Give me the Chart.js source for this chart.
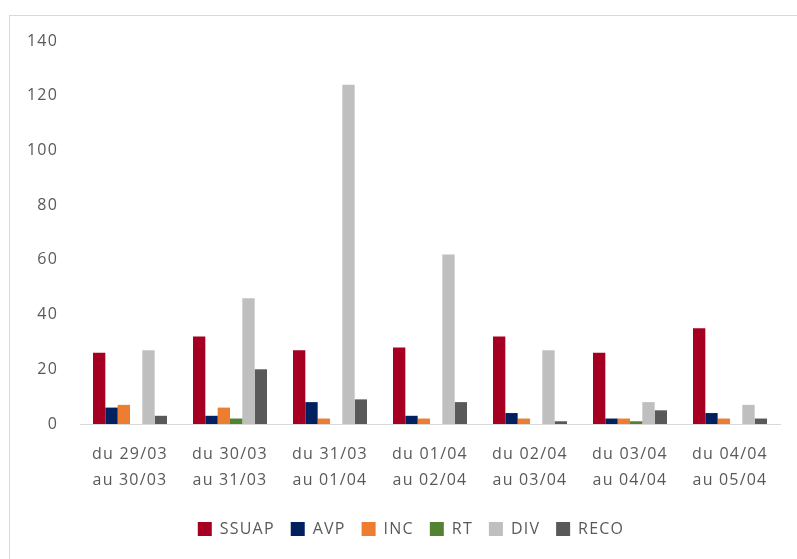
<!DOCTYPE html>
<html>
<head>
<meta charset="utf-8">
<script src="https://cdn.jsdelivr.net/npm/chart.js@4.4.1/dist/chart.umd.min.js"></script>
<style>
  html, body { margin: 0; padding: 0; background: #ffffff; }
  #wrap { position: relative; width: 797px; height: 559px; overflow: hidden; }
  #frame { position: absolute; left: 9px; top: 15px; width: 900px; height: 700px; border-left: 1px solid #d9d9d9; border-top: 1px solid #d9d9d9; }
  canvas { position: absolute; left: 0; top: 0; }
</style>
</head>
<body>
<div id="wrap">
  <div id="frame"></div>
  <canvas id="c" width="797" height="559" style="width:797px;height:559px"></canvas>
</div>
<script>
const categories = [
  ["du 29/03", "au 30/03"],
  ["du 30/03", "au 31/03"],
  ["du 31/03", "au 01/04"],
  ["du 01/04", "au 02/04"],
  ["du 02/04", "au 03/04"],
  ["du 03/04", "au 04/04"],
  ["du 04/04", "au 05/04"]
];
const seriesNames = ["SSUAP", "AVP", "INC", "RT", "DIV", "RECO"];
const ssuap = [26, 32, 27, 28, 32, 26, 35];
const avp   = [6, 3, 8, 3, 4, 2, 4];
const inc   = [7, 6, 2, 2, 2, 2, 2];
const rt    = [0, 2, 0, 0, 0, 1, 0];
const div   = [27, 46, 124, 62, 27, 8, 7];
const reco  = [3, 20, 9, 8, 1, 5, 2];
const yTicks = [0, 20, 40, 60, 80, 100, 120, 140];

const colors = ["#A50021", "#002060", "#ED7D31", "#548235", "#BFBFBF", "#595959"];
const values = [ssuap, avp, inc, rt, div, reco];

const spacing = '1.2px';
const spacingPlugin = {
  id: 'spacing',
  afterInit(chart) { chart.ctx.letterSpacing = spacing; },
  beforeUpdate(chart) { chart.ctx.letterSpacing = spacing; },
  afterLayout(chart) {
    if (chart.legend) { chart.legend.left += 21; chart.legend.right += 21; }
  },
  beforeDraw(chart) { chart.ctx.letterSpacing = spacing; }
};

const fam = "'Open Sans', sans-serif";

new Chart(document.getElementById('c'), {
  type: 'bar',
  data: {
    labels: categories,
    datasets: seriesNames.map((n, i) => ({
      label: n,
      data: values[i],
      backgroundColor: colors[i],
      borderWidth: 0,
      categoryPercentage: 0.74,
      barPercentage: 1.0
    }))
  },
  options: {
    responsive: false,
    animation: false,
    devicePixelRatio: 1,
    layout: { padding: { left: 0, right: 17, top: 41, bottom: 12 } },
    plugins: {
      tooltip: { enabled: false },
      legend: {
        position: 'bottom',
        labels: {
          boxWidth: 14,
          boxHeight: 14,
          padding: 16,
          color: '#595959',
          font: { family: fam, size: 16 }
        }
      }
    },
    scales: {
      x: {
        grid: { display: false, drawTicks: false },
        border: { display: true, color: '#d9d9d9', width: 1 },
        ticks: {
          color: '#595959',
          font: { family: fam, size: 16, lineHeight: 1.625 },
          padding: 17,
          maxRotation: 0,
          autoSkip: false
        },
        afterFit(scale) { scale.height = 81; }
      },
      y: {
        min: 0,
        max: 140,
        afterBuildTicks(scale) { scale.ticks = yTicks.map(v => ({ value: v })); },
        grid: { display: false, drawTicks: false },
        border: { display: false },
        ticks: {
          color: '#595959',
          font: { family: fam, size: 16 },
          padding: 22
        },
        afterFit(scale) { scale.width = 80; }
      }
    }
  },
  plugins: [spacingPlugin]
});
</script>
</body>
</html>
